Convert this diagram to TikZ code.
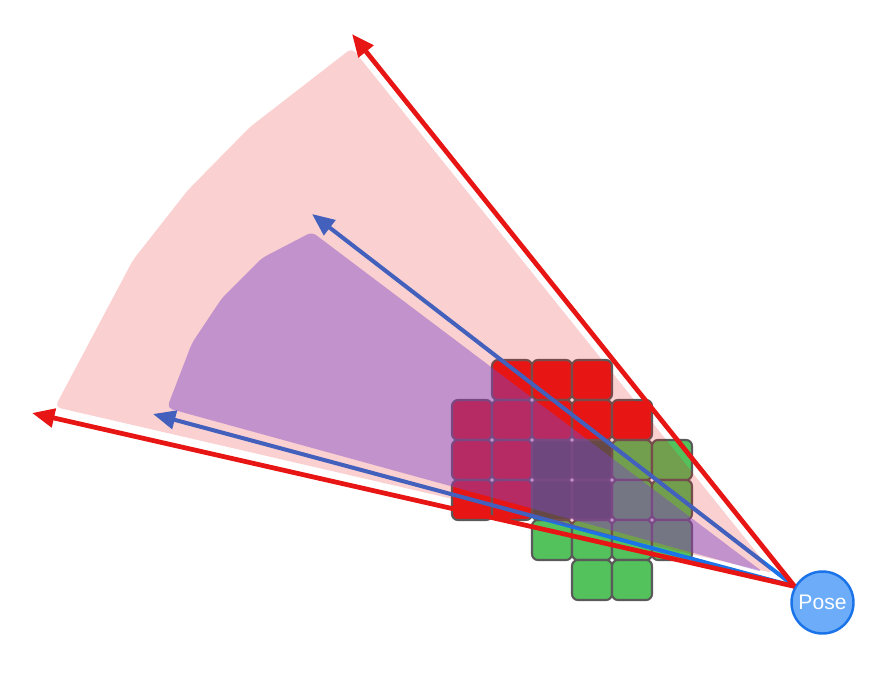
\documentclass[tikz,border=0pt]{standalone}
\usepackage{fontspec}
\setmainfont{Liberation Sans}
\usetikzlibrary{arrows.meta}

\definecolor{occred}{RGB}{232,21,21}
\definecolor{freegreen}{RGB}{84,194,92}
\definecolor{bothcell}{RGB}{70,86,80}
\definecolor{cellborder}{RGB}{90,90,90}
\definecolor{rayblue}{RGB}{26,115,232}
\definecolor{fanpurple}{RGB}{124,70,199}
\definecolor{posefill}{RGB}{108,172,248}

\begin{document}
\begin{tikzpicture}[x=0.02cm, y=-0.02cm,
    cell/.style={draw=cellborder, line width=1.2pt, rounded corners=3.4pt, minimum size=0.8cm, inner sep=0pt},
    redcell/.style={cell, fill=occred},
    greencell/.style={cell, fill=freegreen},
    mixcell/.style={cell, fill=bothcell},
    ray/.style={line width=2.4pt, -{Triangle[length=0.45cm, width=0.37cm]}}]
  \useasboundingbox (0,0) rectangle (892,674);

  % Grid cells: red, green and cells that are both
  \foreach \i/\j in {1/0,2/0,3/0,0/1,1/1,2/1,3/1,4/1,0/2,1/2,0/3,1/3}
    \node[redcell] (r-\i-\j) at ({472+40*\i},{380+40*\j}) {};
  \foreach \i/\j in {4/2,5/2,4/3,5/3,2/4,3/4,4/4,5/4,3/5,4/5}
    \node[greencell] (g-\i-\j) at ({472+40*\i},{380+40*\j}) {};
  \foreach \i/\j in {2/2,3/2,2/3,3/3}
    \node[mixcell] (m-\i-\j) at ({472+40*\i},{380+40*\j}) {};

  % Pose circle
  \node[circle, draw=rayblue, line width=1.4pt, fill=posefill, minimum size=1.24cm, inner sep=0pt,
        text=white, font=\fontsize{12}{14}\selectfont] (pose) at (822.5,602.5) {Pose};

  % Ends of the rays
  \coordinate (redtop) at (352,34);
  \coordinate (redleft) at (32,413);
  \coordinate (bluetop) at (312,214);
  \coordinate (blueleft) at (153,414);

  % Inner rays in blue
  \draw[ray, rayblue, line width=2.3pt] (pose.150) -- (bluetop);
  \draw[ray, rayblue, line width=2.3pt] (pose.150) -- (blueleft);

  % Outer fan (light red) and inner fan (purple)
  \fill[occred, fill opacity=0.2, rounded corners=3pt]
    (773,573) -- (55,407) -- (133,260) -- (188,190) -- (250,127) -- (352,48) -- cycle;
  \fill[fanpurple, fill opacity=0.45, rounded corners=3pt]
    (763,572) -- (167,408) -- (192,343) -- (222,298) -- (262,258) -- (312,232) -- cycle;

  % Outer rays in red
  \draw[ray, occred, line width=2.7pt] (pose.150) -- (redtop);
  \draw[ray, occred, line width=2.7pt] (pose.150) -- (redleft);
\end{tikzpicture}
\end{document}
